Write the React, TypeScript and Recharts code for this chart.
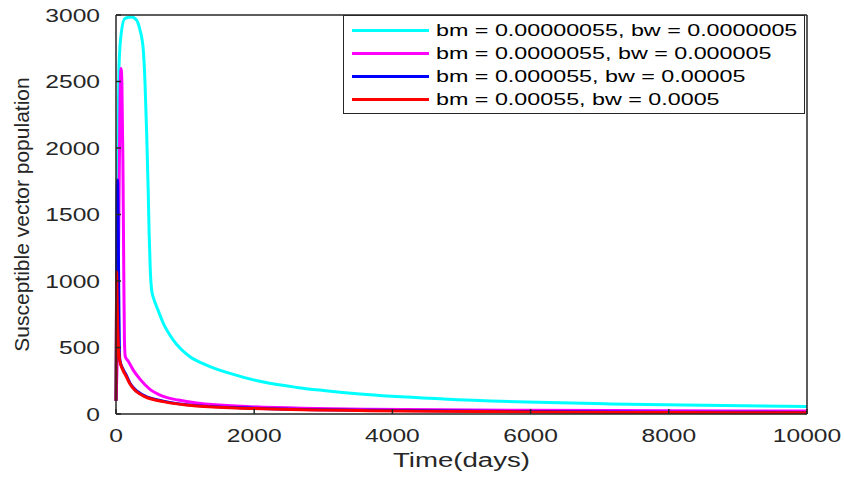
import React from 'react';
import { LineChart, Line, XAxis, YAxis, Legend } from 'recharts';

// axis ticks
const xTicks = [0, 2000, 4000, 6000, 8000, 10000];
const yTicks = [0, 500, 1000, 1500, 2000, 2500, 3000];

// bm = 0.00000055, bw = 0.0000005
const cyanT = [0, 12, 25, 43, 75, 130, 227, 300, 347, 395, 420, 444, 465, 480, 495, 516, 550, 589, 685, 829, 1071, 1300, 1650, 2132, 2615, 3000, 3531, 4737, 5944, 7149, 8500, 10000];
const cyanV = [100, 900, 1900, 2609, 2860, 2975, 2985, 2960, 2887, 2737, 2487, 2110, 1700, 1350, 1100, 932, 860, 807, 682, 556, 431, 370, 305, 240, 200, 177, 150, 113, 90, 76, 65, 57];

// bm = 0.0000055, bw = 0.000005
const magentaT = [0, 20, 40, 55, 72, 85, 100, 112, 122, 135, 180, 250, 347, 492, 685, 900, 1167, 1940, 3676, 6000, 8000, 10000];
const magentaV = [100, 500, 1400, 2200, 2598, 2500, 1900, 1100, 550, 430, 395, 330, 262, 185, 132, 105, 82, 55, 35, 28, 24, 22];

// bm = 0.000055, bw = 0.00005
const blueT = [0, 8, 15, 22, 30, 40, 50, 58, 100, 155, 203, 270, 347, 415, 685, 1167, 1940, 3676, 6000, 8000, 10000];
const blueV = [100, 900, 1600, 1759, 1500, 900, 450, 400, 340, 285, 232, 187, 156, 136, 97, 63, 45, 28, 18, 14, 12];

// bm = 0.00055, bw = 0.0005
const redT = [0, 5, 10, 15, 25, 40, 53, 100, 150, 203, 270, 347, 415, 685, 1167, 1940, 3676, 6000, 8000, 10000];
const redV = [100, 600, 1069, 900, 650, 470, 405, 330, 280, 225, 180, 150, 130, 93, 60, 42, 25, 15, 11, 10];

const names = [
  'bm = 0.00000055, bw = 0.0000005',
  'bm = 0.0000055, bw = 0.000005',
  'bm = 0.000055, bw = 0.00005',
  'bm = 0.00055, bw = 0.0005',
];

const COLORS = ['#00ffff', '#ff00ff', '#0000ff', '#ff0000'];
const AXIS = '#262626';
const FONT = '"Liberation Sans", Arial, Helvetica, sans-serif';
const STRETCH = 1.33;

const toPoints = (t: number[], v: number[]) => t.map((x, i) => ({ t: x, v: v[i] }));

const series = [
  toPoints(cyanT, cyanV),
  toPoints(magentaT, magentaV),
  toPoints(blueT, blueV),
  toPoints(redT, redV),
];

function BottomTick({ x, y, payload }: any) {
  return (
    <g transform={`translate(${x},${y}) scale(${STRETCH},1)`}>
      <text textAnchor="middle" dy={18} fontSize={18.5} fill={AXIS} fontFamily={FONT}>
        {payload.value}
      </text>
    </g>
  );
}

function LeftTick({ x, y, payload }: any) {
  return (
    <g transform={`translate(${x},${y}) scale(${STRETCH},1)`}>
      <text textAnchor="end" dy={6.5} fontSize={18.5} fill={AXIS} fontFamily={FONT}>
        {payload.value}
      </text>
    </g>
  );
}

function XLabel(props: any) {
  const vb = props.viewBox || { x: 0, y: 0, width: 0, height: 0 };
  const cx = vb.x + vb.width / 2;
  const cy = vb.y + 53;
  return (
    <g transform={`translate(${cx},${cy}) scale(1.38,1)`}>
      <text textAnchor="middle" fontSize={20} fill={AXIS} fontFamily={FONT}>
        Time(days)
      </text>
    </g>
  );
}

function YLabel(props: any) {
  const vb = props.viewBox || { x: 0, y: 0, width: 0, height: 0 };
  const cx = vb.x + 21;
  const cy = vb.y + vb.height / 2;
  return (
    <text
      x={cx}
      y={cy}
      transform={`rotate(-90, ${cx}, ${cy})`}
      textAnchor="middle"
      dominantBaseline="central"
      fontSize={21}
      fill={AXIS}
      fontFamily={FONT}
    >
      Susceptible vector population
    </text>
  );
}

function LegendBox({ payload }: any) {
  return (
    <div
      style={{
        boxSizing: 'border-box',
        width: 462,
        height: 99,
        border: `1px solid ${AXIS}`,
        background: '#fff',
        padding: '3px 0 0 8px',
      }}
    >
      {(payload || []).map((item: any) => (
        <div key={item.value} style={{ display: 'flex', alignItems: 'center', height: 23 }}>
          <span style={{ width: 77, height: 3, background: item.color, marginRight: 7, flex: 'none' }} />
          <span
            style={{
              fontFamily: FONT,
              fontSize: 17,
              color: '#000',
              transform: 'scaleX(1.37)',
              transformOrigin: 'left center',
              whiteSpace: 'nowrap',
              lineHeight: '23px',
            }}
          >
            {item.value}
          </span>
        </div>
      ))}
    </div>
  );
}

export default function App() {
  return (
    <div style={{ position: 'absolute', left: 0, top: 0, width: 844, height: 477, background: '#fff' }}>
      <LineChart width={844} height={477} margin={{ top: 14, right: 36, bottom: 0, left: 0 }}>
        <XAxis
          dataKey="t"
          type="number"
          domain={[0, 10000]}
          ticks={xTicks}
          interval={0}
          height={63}
          tickSize={-5}
          tickMargin={15}
          tick={<BottomTick />}
          axisLine={{ stroke: AXIS, strokeWidth: 1.5 }}
          tickLine={{ stroke: AXIS, strokeWidth: 1.5 }}
          label={<XLabel />}
        />
        <XAxis
          xAxisId="top"
          orientation="top"
          dataKey="t"
          type="number"
          domain={[0, 10000]}
          ticks={xTicks}
          interval={0}
          height={1}
          tickSize={-5}
          tick={false}
          axisLine={{ stroke: AXIS, strokeWidth: 1.5 }}
          tickLine={{ stroke: AXIS, strokeWidth: 1.5 }}
        />
        <YAxis
          type="number"
          domain={[0, 3000]}
          ticks={yTicks}
          interval={0}
          width={116}
          tickSize={-5}
          tickMargin={21}
          tick={<LeftTick />}
          axisLine={{ stroke: AXIS, strokeWidth: 1.5 }}
          tickLine={{ stroke: AXIS, strokeWidth: 1.5 }}
          label={<YLabel />}
        />
        <YAxis
          yAxisId="right"
          orientation="right"
          type="number"
          domain={[0, 3000]}
          ticks={yTicks}
          interval={0}
          width={1}
          tickSize={-5}
          tick={false}
          axisLine={{ stroke: AXIS, strokeWidth: 1.5 }}
          tickLine={{ stroke: AXIS, strokeWidth: 1.5 }}
        />
        <Legend
          layout="horizontal"
          verticalAlign="middle"
          align="center"
          wrapperStyle={{ top: 15, left: 343, width: 462, height: 99 }}
          content={<LegendBox />}
        />
        {series.map((data, i) => (
          <Line
            key={names[i]}
            data={data}
            dataKey="v"
            name={names[i]}
            type="monotone"
            stroke={COLORS[i]}
            strokeWidth={3}
            dot={false}
            activeDot={false}
            isAnimationActive={false}
          />
        ))}
      </LineChart>
    </div>
  );
}
